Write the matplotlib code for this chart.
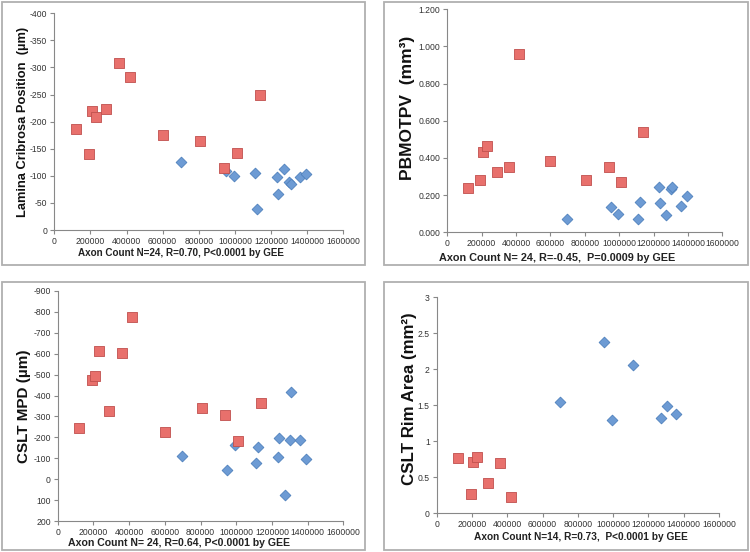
import matplotlib
matplotlib.use("Agg")
from matplotlib import pyplot as plt
from matplotlib.patches import Rectangle
from matplotlib.ticker import FuncFormatter

plt.rcParams["axes.unicode_minus"] = False
plt.rcParams["font.family"] = ["Liberation Sans", "DejaVu Sans"]

# axon counts (same eyes in every panel)
red_x = [120000, 192000, 208000, 231000, 288000, 360000, 419000,
         600000, 806000, 939000, 1011000, 1138000]
blue_x = [699000, 950000, 993000, 1111000, 1124000, 1234000, 1240000,
          1273000, 1299000, 1308000, 1358000, 1393000]

# lamina cribrosa position (um)
lcp_red = [-186, -141, -220, -208, -223, -309, -282, -176, -164, -115, -142, -250]
lcp_blue = [-125, -109, -100, -105, -39, -97, -66, -113, -89, -84, -97, -104]

# PBMOTPV (mm3)
pb_red = [0.236, 0.283, 0.434, 0.465, 0.327, 0.349, 0.962, 0.381, 0.283, 0.354, 0.269, 0.541]
pb_blue = [0.069, 0.135, 0.100, 0.069, 0.162, 0.245, 0.158, 0.091, 0.233, 0.245, 0.143, 0.196]

# CSLT MPD (um)
mpd_red = [-245, -474, -493, -612, -326, -604, -773, -226, -339, -308, -184, -362]
mpd_blue = [-110, -45, -162, -79, -153, -107, -196, 73, -189, -418, -189, -95]

# CSLT rim area (mm2), only 14 eyes
rim_red_x = [120000, 192000, 208000, 231000, 288000, 360000, 419000]
rim_red = [0.773, 0.269, 0.718, 0.787, 0.417, 0.694, 0.231]
rim_blue_x = [699000, 950000, 993000, 1111000, 1273000, 1308000, 1358000]
rim_blue = [1.542, 2.384, 1.296, 2.065, 1.329, 1.495, 1.375]

x_ticks = [0, 200000, 400000, 600000, 800000, 1000000, 1200000, 1400000, 1600000]

W, H = 750, 552
fig = plt.figure(figsize=(7.5, 5.52), dpi=100)
fig.patch.set_facecolor("white")

# gray frames round each panel
for (l, t, r, b) in [(2, 2, 365, 265), (384, 2, 748, 265),
                     (2, 282, 365, 550), (384, 282, 748, 550)]:
    fig.patches.append(Rectangle((l / W, 1 - b / H), (r - l) / W, (b - t) / H,
                                 transform=fig.transFigure, fill=False,
                                 edgecolor="#b0b0b0", linewidth=1.3))


def make_ax(l, t, r, b):
    return fig.add_axes([l / W, 1 - b / H, (r - l) / W, (b - t) / H])


def style(ax, xlabel, ylabel, xl_pos, yl_pos, xsize, ysize):
    for s in ["top", "right"]:
        ax.spines[s].set_visible(False)
    for s in ["left", "bottom"]:
        ax.spines[s].set_color("#888888")
        ax.spines[s].set_linewidth(0.8)
    ax.set_xlim(0, 1600000)
    ax.set_xticks(x_ticks)
    ax.xaxis.set_major_formatter(FuncFormatter(lambda v, p: "%d" % v))
    ax.tick_params(labelsize=6.2, colors="#888888", labelcolor="#333333",
                   length=3, width=0.8, pad=2)
    ax.set_xlabel(xlabel, fontsize=xsize, fontweight="bold", color="#222222")
    ax.set_ylabel(ylabel, fontsize=ysize, fontweight="bold", color="#111111")
    ax.xaxis.set_label_coords(*xl_pos)
    ax.yaxis.set_label_coords(*yl_pos)
    ax.xaxis.label.set_va("center")
    ax.yaxis.label.set_va("center")


def dots(ax, bx, by, rx, ry):
    ax.scatter(bx, by, marker="D", s=30, color="#6d9bd4", edgecolors="#4f81bd",
               linewidths=0.6, zorder=3, clip_on=False)
    ax.scatter(rx, ry, marker="s", s=48, color="#e8706c", edgecolors="#c0504d",
               linewidths=0.6, zorder=4, clip_on=False)


# panel 1
ax1 = make_ax(54.3, 13.3, 343.3, 230)
dots(ax1, blue_x, lcp_blue, red_x, lcp_red)
ax1.set_ylim(0, -400)
ax1.set_yticks(range(0, -401, -50))
style(ax1, "Axon Count N=24, R=0.70, P<0.0001 by GEE", "Lamina Cribrosa Position  (\u00b5m)",
      (0.437, -0.108), (-0.108, 0.5), 7.1, 9.3)

# panel 2
ax2 = make_ax(447.3, 9.3, 722.3, 232.3)
dots(ax2, blue_x, pb_blue, red_x, pb_red)
ax2.set_ylim(0, 1.2)
ax2.set_yticks([0, 0.2, 0.4, 0.6, 0.8, 1.0, 1.2])
ax2.yaxis.set_major_formatter(FuncFormatter(lambda v, p: "%.3f" % v))
style(ax2, "Axon Count N= 24, R=-0.45,  P=0.0009 by GEE", "PBMOTPV  (mm\u00b3)",
      (0.40, -0.114), (-0.143, 0.56), 7.8, 12.5)

# panel 3
ax3 = make_ax(57.7, 290.7, 343.3, 521.3)
dots(ax3, blue_x, mpd_blue, red_x, mpd_red)
ax3.set_ylim(200, -900)
ax3.set_yticks(range(200, -901, -100))
style(ax3, "Axon Count N= 24, R=0.64, P<0.0001 by GEE", "CSLT MPD (\u00b5m)",
      (0.423, -0.093), (-0.118, 0.5), 7.6, 11)

# panel 4
ax4 = make_ax(436.7, 297.3, 719, 513.3)
dots(ax4, rim_blue_x, rim_blue, rim_red_x, rim_red)
ax4.set_ylim(0, 3)
ax4.set_yticks([0, 0.5, 1, 1.5, 2, 2.5, 3])
ax4.yaxis.set_major_formatter(FuncFormatter(lambda v, p: "%g" % v))
style(ax4, "Axon Count N=14, R=0.73,  P<0.0001 by GEE", "CSLT Rim Area (mm\u00b2)",
      (0.511, -0.111), (-0.095, 0.53), 7.3, 12.2)

fig.savefig("out.png", dpi=100, facecolor="white")
